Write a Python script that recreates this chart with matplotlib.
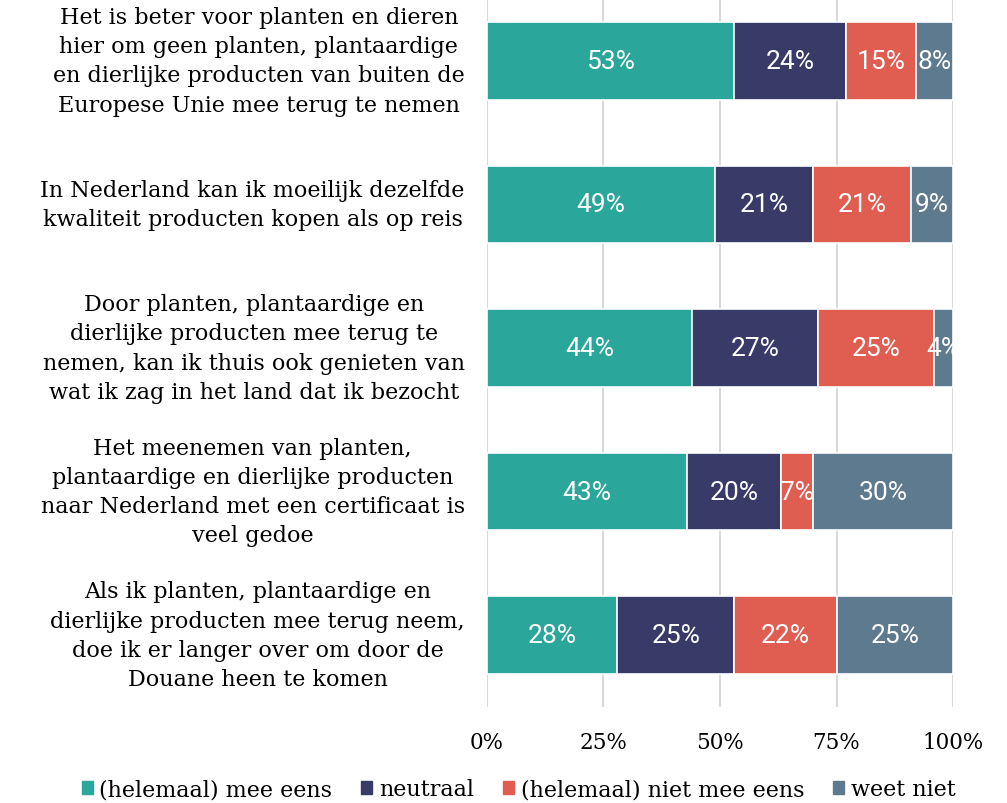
import matplotlib
matplotlib.use("Agg")
import matplotlib.pyplot as plt
from matplotlib.patches import Patch

# stellingen (van boven naar beneden)
stellingen = [
    "Het is beter voor planten en dieren\nhier om geen planten, plantaardige\nen dierlijke producten van buiten de\nEuropese Unie mee terug te nemen",
    "In Nederland kan ik moeilijk dezelfde\nkwaliteit producten kopen als op reis",
    "Door planten, plantaardige en\ndierlijke producten mee terug te\nnemen, kan ik thuis ook genieten van\nwat ik zag in het land dat ik bezocht",
    "Het meenemen van planten,\nplantaardige en dierlijke producten\nnaar Nederland met een certificaat is\nveel gedoe",
    "Als ik planten, plantaardige en\ndierlijke producten mee terug neem,\ndoe ik er langer over om door de\nDouane heen te komen",
]
mee_eens = [53, 49, 44, 43, 28]
neutraal = [24, 21, 27, 20, 25]
niet_eens = [15, 21, 25, 7, 22]
weet_niet = [8, 9, 4, 30, 25]

reeksen = ["(helemaal) mee eens", "neutraal", "(helemaal) niet mee eens", "weet niet"]
kleuren = ["#2ba69b", "#383b68", "#e05d52", "#5e7a8f"]

serif = "DejaVu Serif"
sans = "Roboto"

fig = plt.figure(figsize=(10.07, 8.04), dpi=100)
ax = fig.add_axes([0.4836, 0.1194, 0.4628, 0.893])

y = list(range(len(stellingen)))
links = [0] * len(stellingen)
for naam, waarden, kleur in zip(reeksen, [mee_eens, neutraal, niet_eens, weet_niet], kleuren):
    frac = [v / 100 for v in waarden]
    bars = ax.barh(y, frac, left=links, height=0.54, color=kleur,
                   edgecolor="white", linewidth=1.2, label=naam, zorder=3)
    for rect, v in zip(bars, waarden):
        cx = rect.get_x() + rect.get_width() / 2
        cy = rect.get_y() + rect.get_height() / 2
        t = ax.text(cx, cy, f"{v}%", ha="center", va="center", color="white",
                    fontsize=19, family=sans, zorder=4)
        t.set_clip_path(rect)
    links = [l + f for l, f in zip(links, frac)]

ax.set_xlim(0, 1)
ax.set_ylim(4.5, -0.5)
ax.set_xticks([0, 0.25, 0.5, 0.75, 1.0])
ax.set_xticklabels(["0%", "25%", "50%", "75%", "100%"], family=serif, fontsize=15.5)
ax.set_yticks(y)
ax.set_yticklabels(stellingen, family=serif, fontsize=16, multialignment="center",
                   linespacing=1.42, va="center")
ax.tick_params(axis="both", length=0)
ax.tick_params(axis="x", pad=17)
ax.tick_params(axis="y", pad=16)
ax.xaxis.grid(True, color="#d9d9d9", linewidth=1.5, zorder=0)
for s in ax.spines.values():
    s.set_visible(False)

handles = [Patch(color=k, label=n) for n, k in zip(reeksen, kleuren)]
fig.legend(handles=handles, loc="center", bbox_to_anchor=(0.515, 0.017), ncol=4,
           frameon=False, prop={"family": serif, "size": 16}, handlelength=0.5,
           handleheight=0.5, handletextpad=0.3, columnspacing=1.3)

fig.savefig("out.png", dpi=100)
